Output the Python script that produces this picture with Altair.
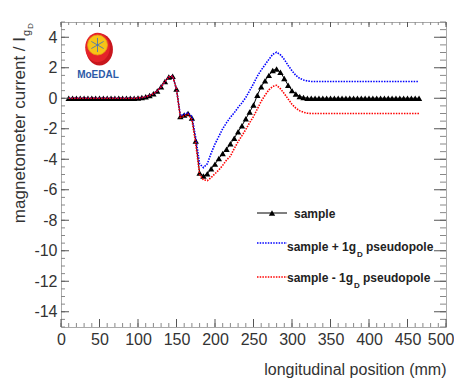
import altair as alt
import pandas as pd

# ---------------- data ----------------
x_mm = list(range(10, 470, 5))

sample = ([0.0] * 18 +
          [0.02, 0.05, 0.1, 0.18, 0.3, 0.48, 0.75, 1.1, 1.4, 1.45,
           0.6, -1.2, -1.1, -1.0, -1.3, -2.8, -4.9, -5.1, -4.95, -4.62,
           -4.32, -3.95, -3.62, -3.34, -2.98, -2.62, -2.2, -1.8, -1.35, -0.9,
           -0.45, 0.2, 0.75, 1.15, 1.5, 1.82, 1.92, 1.7, 1.3, 0.85,
           0.5, 0.28, 0.12, 0.05] +
          [0.0] * 30)

plus = ([0.0] * 18 +
        [0.02, 0.05, 0.1, 0.18, 0.3, 0.48, 0.75, 1.1, 1.4, 1.45,
         0.6, -1.15, -1.05, -0.95, -1.2, -2.6, -4.3, -4.55, -4.3, -3.6,
         -3.0, -2.5, -2.0, -1.6, -1.25, -0.95, -0.6, -0.3, 0.05, 0.5,
         0.95, 1.45, 1.85, 2.2, 2.55, 2.88, 3.02, 2.85, 2.55, 2.15,
         1.8, 1.5, 1.3, 1.2] +
        [1.13] + [1.1] * 29)

minus = ([0.0] * 18 +
         [0.02, 0.05, 0.1, 0.18, 0.3, 0.48, 0.75, 1.1, 1.4, 1.45,
          0.6, -1.25, -1.15, -1.05, -1.4, -3.0, -5.0, -5.35, -5.4, -5.2,
          -4.95, -4.7, -4.4, -4.05, -3.8, -3.3, -2.85, -2.45, -2.05, -1.6,
          -1.2, -0.7, -0.2, 0.2, 0.55, 0.78, 0.85, 0.62, 0.3, -0.05,
          -0.4, -0.65, -0.82, -0.92] +
         [-0.98] + [-1.0] * 29)

x_major = [0, 50, 100, 150, 200, 250, 300, 350, 400, 450, 500]
x_minor = list(range(0, 510, 10))
y_major = [-14, -12, -10, -8, -6, -4, -2, 0, 2, 4]
y_minor = [v / 2 for v in range(-30, 11)]

legend_labels = ["sample", "sample + 1g", "sample - 1g"]

# ---------------- layout / style ----------------
W, H = 385, 305
FONT = "Liberation Sans, Arial, Helvetica, sans-serif"
FRAME = "#aaaaaa"
TMAJ = "#555555"
TMIN = "#888888"
LBL = "#333333"

xs = alt.Scale(domain=[0, 500], nice=False, zero=False)
ys = alt.Scale(domain=[-15, 5], nice=False, zero=False)

df = pd.DataFrame({"x": x_mm, "sample": sample, "plus": plus, "minus": minus})
one = pd.DataFrame({"a": [0]})

LABEL_EXPR = "datum.value < 0 ? '-' + abs(datum.value) : '' + datum.value"

xaxis = alt.Axis(values=x_major, ticks=False, domain=False, grid=False,
                 labelExpr=LABEL_EXPR,
                 labelAlign=alt.ExprRef(expr="datum.value == 500 ? 'right' : 'center'"),
                 labelOffset=alt.ExprRef(expr="datum.value == 500 ? 8 : 0"),
                 labelFont=FONT, labelFontSize=16, labelColor=LBL, labelPadding=4,
                 labelFlush=False, title="longitudinal position (mm)", titleFont=FONT,
                 titleFontSize=16, titleFontWeight="normal", titleColor=LBL,
                 titleAnchor="end", titleAlign="right", titleBaseline="middle",
                 titleX=W, titleY=42)
yaxis = alt.Axis(values=y_major, ticks=False, domain=False, grid=False,
                 labelExpr=LABEL_EXPR,
                 labelFont=FONT, labelFontSize=16, labelColor=LBL, labelPadding=4,
                 labelFlush=False, title=None)

X = lambda f: alt.X(f, scale=xs, axis=xaxis)
Y = lambda f: alt.Y(f, scale=ys, axis=yaxis)

base = alt.Chart(df)
line_sample = base.mark_line(color="black", strokeWidth=1).encode(x=X("x:Q"), y=Y("sample:Q"))
pts_sample = base.mark_point(shape="triangle-up", filled=True, color="black", size=40, opacity=1).encode(
    x=X("x:Q"), y=Y("sample:Q"))
line_plus = base.mark_line(color="#0000ff", strokeWidth=1.6, strokeDash=[1.5, 1.2]).encode(
    x=X("x:Q"), y=Y("plus:Q"))
line_minus = base.mark_line(color="#ff0000", strokeWidth=1.6, strokeDash=[1.5, 1.2]).encode(
    x=X("x:Q"), y=Y("minus:Q"))


def yticks(vals, x0, x1, color):
    return alt.Chart(pd.DataFrame({"v": vals})).mark_rule(color=color, strokeWidth=1).encode(
        y=Y("v:Q"), x=alt.value(x0), x2=alt.value(x1))


def xticks(vals, y0, y1, color):
    return alt.Chart(pd.DataFrame({"v": vals})).mark_rule(color=color, strokeWidth=1).encode(
        x=X("v:Q"), y=alt.value(y0), y2=alt.value(y1))


ticks = [
    yticks(y_minor, 0, 4, TMIN), yticks(y_major, 0, 8, TMAJ),
    yticks(y_minor, W - 6, W, TMIN), yticks(y_major, W - 12, W, TMAJ),
    xticks(x_minor, H - 4, H, TMIN), xticks(x_major, H - 8, H, TMAJ),
    xticks(x_minor, 0, 3, TMIN), xticks(x_major, 0, 5, TMAJ),
]


def txt(s, x, y, size, align="left", angle=0, weight="normal", color="#222222"):
    return alt.Chart(one).mark_text(text=s, font=FONT, fontSize=size, align=align,
                                    baseline="middle", angle=angle, fontWeight=weight,
                                    color=color).encode(x=alt.value(x), y=alt.value(y))


# y title with subscript
ytitle = [
    txt("magnetometer current / I", -41, 15, 17, align="right", angle=270, color=LBL),
    txt("g", -34, 14, 11, align="left", angle=270, color=LBL),
    txt("D", -30, 7, 8, align="left", angle=270, color=LBL),
]

# legend
leg = [
    alt.Chart(one).mark_rule(color="black", strokeWidth=1).encode(
        x=alt.value(196), x2=alt.value(226), y=alt.value(191)),
    alt.Chart(one).mark_point(shape="triangle-up", filled=True, color="black", size=40, opacity=1).encode(
        x=alt.value(211), y=alt.value(191)),
    alt.Chart(one).mark_rule(color="#0000ff", strokeWidth=1.6, strokeDash=[1.5, 1.2]).encode(
        x=alt.value(196), x2=alt.value(226), y=alt.value(221)),
    alt.Chart(one).mark_rule(color="#ff0000", strokeWidth=1.6, strokeDash=[1.5, 1.2]).encode(
        x=alt.value(196), x2=alt.value(226), y=alt.value(255)),
    txt(legend_labels[0], 233, 192, 12, weight="bold"),
    txt(legend_labels[1], 295, 225, 12, align="right", weight="bold"),
    txt("D", 296, 233, 8, weight="bold"),
    txt("pseudopole", 305, 225, 12, weight="bold"),
    txt(legend_labels[2], 292, 256, 12, align="right", weight="bold"),
    txt("D", 293, 264, 8, weight="bold"),
    txt("pseudopole", 302, 256, 12, weight="bold"),
]

# MoEDAL logo
ELLIPSE = "M0,-1C0.46,-1 0.84,-0.55 0.84,0C0.84,0.55 0.46,1 0,1C-0.46,1 -0.84,0.55 -0.84,0C-0.84,-0.55 -0.46,-1 0,-1Z"
STAR = "M0,-1L0,1M-0.87,-0.5L0.87,0.5M-0.87,0.5L0.87,-0.5"
logo = [
    alt.Chart(one).mark_point(shape=ELLIPSE, filled=True, color="#c8161d", size=1024, opacity=1).encode(
        x=alt.value(38.5), y=alt.value(27.5)),
    alt.Chart(one).mark_point(shape=ELLIPSE, filled=True, color="#e52329", size=860, opacity=1).encode(
        x=alt.value(36.5), y=alt.value(25.5)),
    alt.Chart(one).mark_point(shape="circle", filled=True, color="#f6c416", size=400, opacity=1,
                              stroke="#e89a1a", strokeWidth=0.8).encode(
        x=alt.value(36.5), y=alt.value(23)),
    alt.Chart(one).mark_point(shape=STAR, filled=False, color="#3a6fc0", size=200, opacity=1,
                              strokeWidth=0.8).encode(x=alt.value(36.5), y=alt.value(23)),
    txt("MoEDAL", 37, 53, 10, align="center", weight="bold", color="#2c5aa8"),
]

chart = alt.layer(
    line_sample, pts_sample, line_plus, line_minus, *ticks, *ytitle, *leg, *logo
).properties(
    width=W, height=H,
    padding={"left": 53, "top": 14, "right": 8, "bottom": 52},
    autosize=alt.AutoSizeParams(type="none"),
    background="white",
).configure_view(stroke=FRAME, strokeWidth=1)

chart.save("out.html", embed_options={"renderer": "svg", "actions": False})
